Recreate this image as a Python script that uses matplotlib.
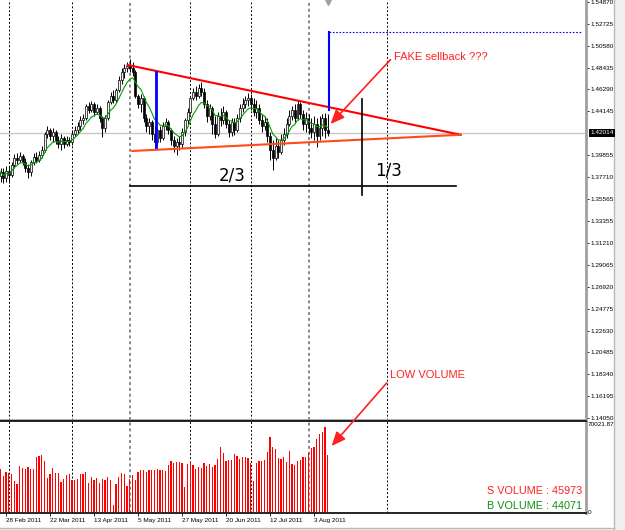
import matplotlib.pyplot as plt
from matplotlib.transforms import blended_transform_factory
from matplotlib.lines import Line2D
from matplotlib.patches import Rectangle
import numpy as np
import pandas as pd

# daily bars (24 Feb 2011 .. 10 Aug 2011)
opens = [1.3780, 1.3819, 1.3760, 1.3829, 1.3790, 1.3887, 1.3956, 1.3936, 1.3976, 1.3917,
         1.3858, 1.3819, 1.3917, 1.3966, 1.3936, 1.3986, 1.4035, 1.4192, 1.4231, 1.4172,
         1.4211, 1.4133, 1.4094, 1.4152, 1.4094, 1.4133, 1.4113, 1.4192, 1.4231, 1.4270,
         1.4329, 1.4349, 1.4466, 1.4427, 1.4486, 1.4408, 1.4447, 1.4349, 1.4251, 1.4349,
         1.4506, 1.4564, 1.4525, 1.4623, 1.4722, 1.4800, 1.4839, 1.4859, 1.4839, 1.4800,
         1.4564, 1.4486, 1.4545, 1.4349, 1.4270, 1.4309, 1.4192, 1.4113, 1.4231, 1.4152,
         1.4270, 1.4309, 1.4231, 1.4133, 1.4074, 1.4113, 1.4094, 1.4211, 1.4329, 1.4408,
         1.4545, 1.4604, 1.4564, 1.4643, 1.4604, 1.4486, 1.4368, 1.4447, 1.4290, 1.4192,
         1.4368, 1.4329, 1.4408, 1.4290, 1.4211, 1.4309, 1.4231, 1.4349, 1.4447, 1.4486,
         1.4525, 1.4545, 1.4486, 1.4408, 1.4447, 1.4329, 1.4270, 1.4309, 1.4172, 1.4035,
         1.3956, 1.4074, 1.4015, 1.4133, 1.4192, 1.4290, 1.4368, 1.4427, 1.4349, 1.4486,
         1.4388, 1.4290, 1.4349, 1.4251, 1.4211, 1.4290, 1.4172, 1.4251, 1.4349, 1.4231]
highs = [1.3858, 1.3858, 1.3878, 1.3878, 1.3917, 1.3995, 1.4005, 1.4015, 1.3995, 1.3956,
         1.3897, 1.3936, 1.4005, 1.4015, 1.4025, 1.4074, 1.4211, 1.4270, 1.4251, 1.4251,
         1.4231, 1.4172, 1.4192, 1.4172, 1.4172, 1.4162, 1.4231, 1.4270, 1.4309, 1.4368,
         1.4388, 1.4486, 1.4506, 1.4515, 1.4506, 1.4486, 1.4466, 1.4368, 1.4378, 1.4525,
         1.4604, 1.4623, 1.4643, 1.4761, 1.4839, 1.4879, 1.4898, 1.4928, 1.4898, 1.4820,
         1.4584, 1.4584, 1.4564, 1.4388, 1.4349, 1.4329, 1.4270, 1.4251, 1.4270, 1.4309,
         1.4349, 1.4329, 1.4251, 1.4172, 1.4152, 1.4172, 1.4251, 1.4349, 1.4447, 1.4564,
         1.4643, 1.4663, 1.4682, 1.4702, 1.4643, 1.4525, 1.4486, 1.4466, 1.4368, 1.4408,
         1.4447, 1.4466, 1.4427, 1.4329, 1.4349, 1.4349, 1.4388, 1.4486, 1.4545, 1.4564,
         1.4594, 1.4584, 1.4545, 1.4525, 1.4486, 1.4388, 1.4368, 1.4349, 1.4211, 1.4133,
         1.4152, 1.4133, 1.4192, 1.4251, 1.4349, 1.4427, 1.4466, 1.4486, 1.4525, 1.4506,
         1.4427, 1.4408, 1.4388, 1.4349, 1.4368, 1.4349, 1.4368, 1.4388, 1.4398, 1.4388]
lows = [1.3721, 1.3711, 1.3721, 1.3711, 1.3770, 1.3858, 1.3897, 1.3917, 1.3887, 1.3819,
        1.3760, 1.3780, 1.3887, 1.3907, 1.3917, 1.3956, 1.4015, 1.4152, 1.4133, 1.4113,
        1.4094, 1.4054, 1.4035, 1.4054, 1.4074, 1.4074, 1.4084, 1.4172, 1.4192, 1.4231,
        1.4290, 1.4329, 1.4398, 1.4408, 1.4368, 1.4388, 1.4309, 1.4162, 1.4211, 1.4329,
        1.4486, 1.4496, 1.4506, 1.4604, 1.4682, 1.4741, 1.4800, 1.4800, 1.4761, 1.4545,
        1.4447, 1.4408, 1.4309, 1.4211, 1.4192, 1.4133, 1.4054, 1.4074, 1.4113, 1.4133,
        1.4231, 1.4192, 1.4084, 1.4015, 1.3986, 1.4035, 1.4054, 1.4172, 1.4290, 1.4388,
        1.4525, 1.4525, 1.4545, 1.4564, 1.4447, 1.4309, 1.4329, 1.4192, 1.4152, 1.4172,
        1.4270, 1.4290, 1.4251, 1.4162, 1.4172, 1.4182, 1.4211, 1.4309, 1.4408, 1.4447,
        1.4466, 1.4427, 1.4368, 1.4349, 1.4290, 1.4211, 1.4231, 1.4113, 1.3936, 1.3838,
        1.3936, 1.3956, 1.3995, 1.4084, 1.4152, 1.4270, 1.4329, 1.4309, 1.4329, 1.4349,
        1.4231, 1.4211, 1.4192, 1.4152, 1.4133, 1.4064, 1.4133, 1.4172, 1.4152, 1.4172]
closes = [1.3819, 1.3760, 1.3829, 1.3790, 1.3887, 1.3956, 1.3936, 1.3976, 1.3917, 1.3858,
          1.3819, 1.3917, 1.3966, 1.3936, 1.3986, 1.4035, 1.4192, 1.4231, 1.4172, 1.4211,
          1.4133, 1.4094, 1.4152, 1.4094, 1.4133, 1.4113, 1.4192, 1.4231, 1.4270, 1.4329,
          1.4349, 1.4466, 1.4427, 1.4486, 1.4408, 1.4447, 1.4349, 1.4251, 1.4349, 1.4506,
          1.4564, 1.4525, 1.4623, 1.4722, 1.4800, 1.4839, 1.4859, 1.4839, 1.4800, 1.4564,
          1.4486, 1.4545, 1.4349, 1.4270, 1.4309, 1.4192, 1.4113, 1.4231, 1.4152, 1.4270,
          1.4309, 1.4231, 1.4133, 1.4074, 1.4113, 1.4094, 1.4211, 1.4329, 1.4408, 1.4545,
          1.4604, 1.4564, 1.4643, 1.4604, 1.4486, 1.4368, 1.4447, 1.4290, 1.4192, 1.4368,
          1.4329, 1.4408, 1.4290, 1.4211, 1.4309, 1.4231, 1.4349, 1.4447, 1.4486, 1.4525,
          1.4545, 1.4486, 1.4408, 1.4447, 1.4329, 1.4270, 1.4309, 1.4172, 1.4035, 1.3956,
          1.4074, 1.4015, 1.4133, 1.4192, 1.4290, 1.4368, 1.4427, 1.4349, 1.4486, 1.4388,
          1.4290, 1.4349, 1.4251, 1.4211, 1.4290, 1.4172, 1.4251, 1.4349, 1.4231, 1.4201]
volumes = [34190, 28620, 31540, 31270, 29950, 24650, 22260, 36570, 34720, 34190,
           35510, 34450, 34190, 43990, 44520, 45320, 40280, 27030, 30210, 34720,
           31010, 31010, 24120, 25970, 29680, 30210, 25440, 25440, 26500, 29950,
           30480, 31540, 22790, 28090, 25440, 26770, 23320, 26500, 25180, 27560,
           25180, 5570, 22000, 27560, 31270, 29950, 20670, 25970, 29420, 25440,
           31540, 33390, 33390, 32070, 33390, 33390, 33390, 34190, 33130, 33130,
           32860, 37100, 40550, 39220, 39490, 39490, 38690, 19610, 37900, 40550,
           37370, 33920, 35510, 35250, 38690, 36840, 38160, 36040, 37370, 42140,
           51940, 46640, 40550, 41340, 41610, 46110, 44790, 41870, 43730, 43460,
           42670, 38960, 24910, 38690, 40810, 40810, 41610, 47970, 59890, 51940,
           50350, 42670, 41870, 43730, 39490, 48760, 38160, 37630, 40810, 41340,
           43730, 43990, 46640, 50620, 51940, 58040, 61750, 63870, 67310, 45320]

price_ticks = [1.54870, 1.52725, 1.50580, 1.48435, 1.46290, 1.44145, 1.39855, 1.37710,
               1.35565, 1.33355, 1.31210, 1.29065, 1.26920, 1.24775, 1.22630, 1.20485,
               1.18340, 1.16195, 1.14050]
price_labels = ['1.54870', '1.52725', '1.50580', '1.48435', '1.46290', '1.44145', '1.39855',
                '1.37710', '1.35565', '1.33355', '1.31210', '1.29065', '1.26920', '1.24775',
                '1.22630', '1.20485', '1.18340', '1.16195', '1.14050']
last_price = 1.42014
vol_max = 70021.87
s_volume = 45973
b_volume = 44071

dates = pd.bdate_range('2011-02-24', periods=len(closes))
x = np.arange(len(closes))
o, h, l, c = (np.array(v) for v in (opens, highs, lows, closes))

fig = plt.figure(figsize=(6.25, 5.30), dpi=100)
ax = fig.add_axes([0, 110 / 530, 586 / 625, 420 / 530])
axv = fig.add_axes([0, 17 / 530, 586 / 625, 92 / 530])

# window frame on the right / bottom (kept behind the axes)
fig.add_artist(Rectangle((614 / 625, 0), 11 / 625, 1, transform=fig.transFigure,
                         facecolor='#f0f0f0', edgecolor='none', zorder=-2))
fig.add_artist(Rectangle((0, 0), 614 / 625, 2 / 530, transform=fig.transFigure,
                         facecolor='#f0f0f0', edgecolor='none', zorder=-2))
fig.add_artist(Line2D([613.5 / 625] * 2, [0, 1], transform=fig.transFigure,
                      color='#b8b8b8', lw=1, zorder=-1))
fig.add_artist(Line2D([0, 613.5 / 625], [2.5 / 530] * 2, transform=fig.transFigure,
                      color='#b8b8b8', lw=1, zorder=-1))

ax.set_xlim(-0.2, 212.9)
ax.set_ylim(1.13849, 1.55066)
axv.set_xlim(-0.2, 212.9)
axv.set_ylim(-795, 72409)

# month separators
month_start = [i for i in range(1, len(dates)) if dates[i].month != dates[i - 1].month]
for i in month_start:
    gray = dates[i].month in (5, 8)
    for a in (ax, axv):
        a.axvline(i, color='#888888' if gray else 'black', lw=1.4 if gray else 0.7,
                  ls=(0, (2, 2)) if not gray else (0, (1.5, 1.5)), zorder=1)
for a in (ax, axv):
    a.axvline(140.6, color='black', lw=0.7, ls=(0, (2, 2)), zorder=1)

# current price line
ax.axhline(last_price, color='#c8c8c8', lw=1, zorder=1)

# candles
up = c >= o
ax.vlines(x, l, h, color='black', lw=0.7, zorder=3)
ax.bar(x[up], (c - o)[up], bottom=o[up], width=0.7, color='#f4f4f4', edgecolor='black', lw=0.5, zorder=4)
ax.bar(x[~up], (o - c)[~up], bottom=c[~up], width=0.7, color='black', edgecolor='black', lw=0.5, zorder=4)

ma = pd.Series(closes).ewm(span=8).mean()
ax.plot(x, ma, color='#00a000', lw=0.8, zorder=5)

# triangle, measured move and notes
ax.plot([46.2, 167.3], [1.4869, 1.4184], color='#ff0000', lw=1.5, zorder=6)
ax.plot([47.9, 167.3], [1.4025, 1.4184], color='#ff4a1a', lw=1.5, zorder=6)
ax.plot([56.6, 56.6], [1.4801, 1.4064], color='#0000ff', lw=2, zorder=6)
ax.plot([119.5, 119.5], [1.4427, 1.5188], color='#0000ff', lw=1.5, zorder=6)
ax.plot([119.5, 210.9], [1.5188, 1.5188], color='#0000ff', lw=0.8, ls=(0, (1.5, 1.5)), zorder=6)
ax.plot([47, 165.5], [1.3684, 1.3684], color='black', lw=1.2, zorder=6)
ax.plot([131.4, 131.4], [1.4535, 1.3596], color='black', lw=1.2, zorder=6)
ax.text(84.4, 1.3789, '2/3', fontsize=12, ha='center', va='center')
ax.text(141.1, 1.3829, '1/3', fontsize=12, ha='center', va='center')

red = '#ff2020'
arrow = dict(arrowstyle='-|>,head_length=0.7,head_width=0.3', color=red, lw=1.2,
             shrinkA=0, shrinkB=0, mutation_scale=12)
ax.text(143, 1.4947, 'FAKE sellback ???', color=red, fontsize=8,
        family='Liberation Sans', va='center', ha='left')
ax.annotate('', xy=(120, 1.4290), xytext=(141.8, 1.4921), arrowprops=arrow, zorder=7)
ax.text(141.8, 1.1827, 'LOW VOLUME', color=red, fontsize=8,
        family='Liberation Sans', va='center', ha='left')
axv.annotate('', xy=(120.4, 52500), xytext=(140.4, 1.1748), textcoords=ax.transData,
             arrowprops=arrow, annotation_clip=False, zorder=7)

# chart shift marker
ax.plot([118.9], [0.995], marker='v', ms=4, color='#a0a0a0',
        transform=blended_transform_factory(ax.transData, ax.transAxes), clip_on=False)

# volume bars
axv.bar(x, volumes, width=0.45, color='#ff0000', lw=0, zorder=3)
axv.text(0.993, 0.24, f'S VOLUME : {s_volume}', transform=axv.transAxes, color='#ff2020',
         fontsize=7.8, family='Liberation Sans', ha='right', va='center')
axv.text(0.993, 0.08, f'B VOLUME : {b_volume}', transform=axv.transAxes, color='#109010',
         fontsize=7.8, family='Liberation Sans', ha='right', va='center')

# price axis
small = dict(labelsize=4.6, labelfontfamily='Liberation Sans')
ax.yaxis.tick_right()
ax.set_yticks(price_ticks, price_labels)
ax.tick_params(axis='y', length=2, width=0.6, pad=1, **small)
ax.set_xticks([])
ax.annotate(f'{last_price:.5f}', xy=(1, last_price),
            xycoords=blended_transform_factory(ax.transAxes, ax.transData),
            xytext=(3, 0), textcoords='offset points', color='white', fontsize=4.6,
            family='Liberation Sans', va='center', ha='left', annotation_clip=False,
            bbox=dict(facecolor='black', edgecolor='none', pad=0.8))

axv.yaxis.tick_right()
axv.set_yticks([0, vol_max], ['0', f'{vol_max:.2f}'])
axv.tick_params(axis='y', length=0, pad=1.5, **small)
lab_idx = list(range(2, len(dates), 16))
axv.set_xticks(lab_idx, [f'{dates[i].day} {dates[i]:%b %Y}' for i in lab_idx])
axv.tick_params(axis='x', length=2, width=0.6, pad=1.5, **small)
for t in axv.get_xticklabels():
    t.set_horizontalalignment('left')

for a in (ax, axv):
    a.spines['left'].set_visible(False)
    a.spines['right'].set_color('#a0a0a0')
    a.spines['right'].set_linewidth(2)
ax.spines['top'].set_visible(False)
ax.spines['bottom'].set_color('#a0a0a0')
ax.spines['bottom'].set_linewidth(1.2)
axv.spines['top'].set_color('black')
axv.spines['top'].set_linewidth(1.2)
axv.spines['bottom'].set_linewidth(1.2)

fig.savefig('out.png', dpi=100)
